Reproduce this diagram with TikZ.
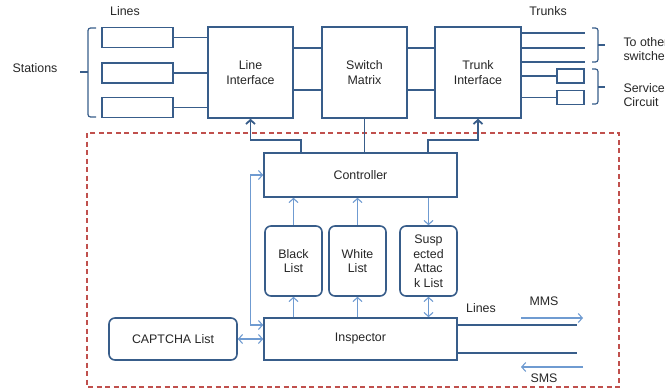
\documentclass[tikz,border=0pt]{standalone}
\usepackage{fontspec}
\setmainfont{Liberation Sans}
\usetikzlibrary{arrows.meta}
\definecolor{dkblue}{HTML}{385D8A}
\definecolor{ltblue}{HTML}{6F9BD1}
\definecolor{dashred}{HTML}{C0504D}
\begin{document}
\begin{tikzpicture}[x=1pt, y=-1pt, >={Straight Barb[length=4pt,width=9pt]}, every node/.style={font=\fontsize{12.4}{14.5}\selectfont, text=black!85}]
	\tikzstyle{block} = [rectangle,draw=dkblue,line width=1.6pt,fill=white,align=center,inner sep=0pt]
	\tikzstyle{list} = [block,rounded corners=6pt]
	\tikzstyle{wire} = [draw=dkblue,line width=1.8pt]
	\tikzstyle{flow} = [draw=ltblue,line width=1.1pt]
	\tikzstyle{bracket} = [draw=dkblue,line width=1.2pt,rounded corners=2.5pt]
	\useasboundingbox (0,0) rectangle (665,391);
	\draw[dashred,line width=1.3pt,dash pattern=on 5pt off 3.5pt] (87,133) rectangle (619,387);
	\node[block,minimum width=71pt,minimum height=20pt](line1)at(137.5,37.5){};
	\node[block,minimum width=71pt,minimum height=20pt](line2)at(137.5,73){};
	\node[block,minimum width=71pt,minimum height=20pt](line3)at(137.5,107.5){};
	\node[block,minimum width=85pt,minimum height=91pt](lineif)at(250.5,72.5){Line\\Interface};
	\node[block,minimum width=85pt,minimum height=91pt](switch)at(364.5,72.5){Switch\\Matrix};
	\node[block,minimum width=86pt,minimum height=91pt](trunkif)at(478,72.5){Trunk\\Interface};
	\node[block,minimum width=27pt,minimum height=14pt](svc1)at(570.5,76){};
	\node[block,minimum width=27pt,minimum height=14pt](svc2)at(570.5,97.5){};
	\node[block,minimum width=193pt,minimum height=44pt](ctrl)at(360.5,175){Controller};
	\node[list,minimum width=57pt,minimum height=70pt](black)at(293.5,261){Black\\List};
	\node[list,minimum width=57pt,minimum height=70pt](white)at(357.5,261){White\\List};
	\node[list,minimum width=57pt,minimum height=70pt](susp)at(428.5,261){Susp\\ected\\Attac\\k List};
	\node[block,minimum width=193pt,minimum height=42pt](insp)at(360.5,339){Inspector};
	\node[list,minimum width=128pt,minimum height=42pt](captcha)at(173,339){CAPTCHA List};
	\node(stations)at(35,68){Stations};
	\node(lines)at(125,11){Lines};
	\node(trunks)at(548,11){Trunks};
	\node[anchor=west,align=left](other)at(620,49){To other\\switches};
	\node[anchor=west,align=left](service)at(620,95){Service\\Circuit};
	\node(inlines)at(481,308){Lines};
	\node(mms)at(544,301){MMS};
	\node(sms)at(544,378){SMS};
	\coordinate(t1)at(585,33);
	\coordinate(t2)at(585,48);
	\coordinate(t3)at(585,62);
	\coordinate(l1)at(577,325);
	\coordinate(l2)at(577,353);
	\coordinate(mmsa)at(521,318);
	\coordinate(mmsb)at(583,318);
	\coordinate(smsa)at(583,367);
	\coordinate(smsb)at(521,367);
	\draw[bracket](96,28)--(88,28)--(88,117)--(96,117);
	\draw[bracket](88,72)--(80,72);
	\draw[bracket](592,28)--(598,28)--(598,62)--(592,62);
	\draw[bracket](598,45)--(605,45);
	\draw[bracket](592,69)--(598,69)--(598,104)--(592,104);
	\draw[bracket](598,87)--(605,87);
	\draw[wire] (line1.east) -- (line1 -| lineif.west)
	(line2.east) -- (line2 -| lineif.west)
	(line3.east) -- (line3 -| lineif.west)
	([yshift=24.5pt]lineif.east) -- ([yshift=24.5pt]lineif.east -| switch.west)
	([yshift=-17.5pt]lineif.east) -- ([yshift=-17.5pt]lineif.east -| switch.west)
	([yshift=24.5pt]switch.east) -- ([yshift=24.5pt]switch.east -| trunkif.west)
	([yshift=-17.5pt]switch.east) -- ([yshift=-17.5pt]switch.east -| trunkif.west)
	(trunkif.east |- t1) -- (t1)
	(trunkif.east |- t2) -- (t2)
	(trunkif.east |- t3) -- (t3)
	(trunkif.east |- svc1) -- (svc1.west)
	(trunkif.east |- svc2) -- (svc2.west)
	(switch.south) -- (switch.south |- ctrl.north)
	(insp.east |- l1) -- (l1)
	(insp.east |- l2) -- (l2);
	\draw[wire,->] ([xshift=-59.5pt]ctrl.north) -- ++(0,-12) -| (lineif.south);
	\draw[wire,->] ([xshift=67.5pt]ctrl.north) -- ++(0,-12) -| (trunkif.south);
	\path[->] (black.north) edge[flow] (black.north |- ctrl.south)
	(white.north) edge[flow] (white.north |- ctrl.south)
	(ctrl.south -| susp.north) edge[flow] (susp.north)
	(insp.north -| black.south) edge[flow] (black.south)
	(insp.north -| white.south) edge[flow] (white.south)
	(mmsa) edge[flow] (mmsb)
	(smsa) edge[flow] (smsb);
	\path[<->] (susp.south) edge[flow] (susp.south |- insp.north)
	(captcha) edge[flow] (insp);
	\draw[flow,<->] ([yshift=14pt]insp.west) -- ++(-13,0) |- (ctrl.west);
\end{tikzpicture}
\end{document}
